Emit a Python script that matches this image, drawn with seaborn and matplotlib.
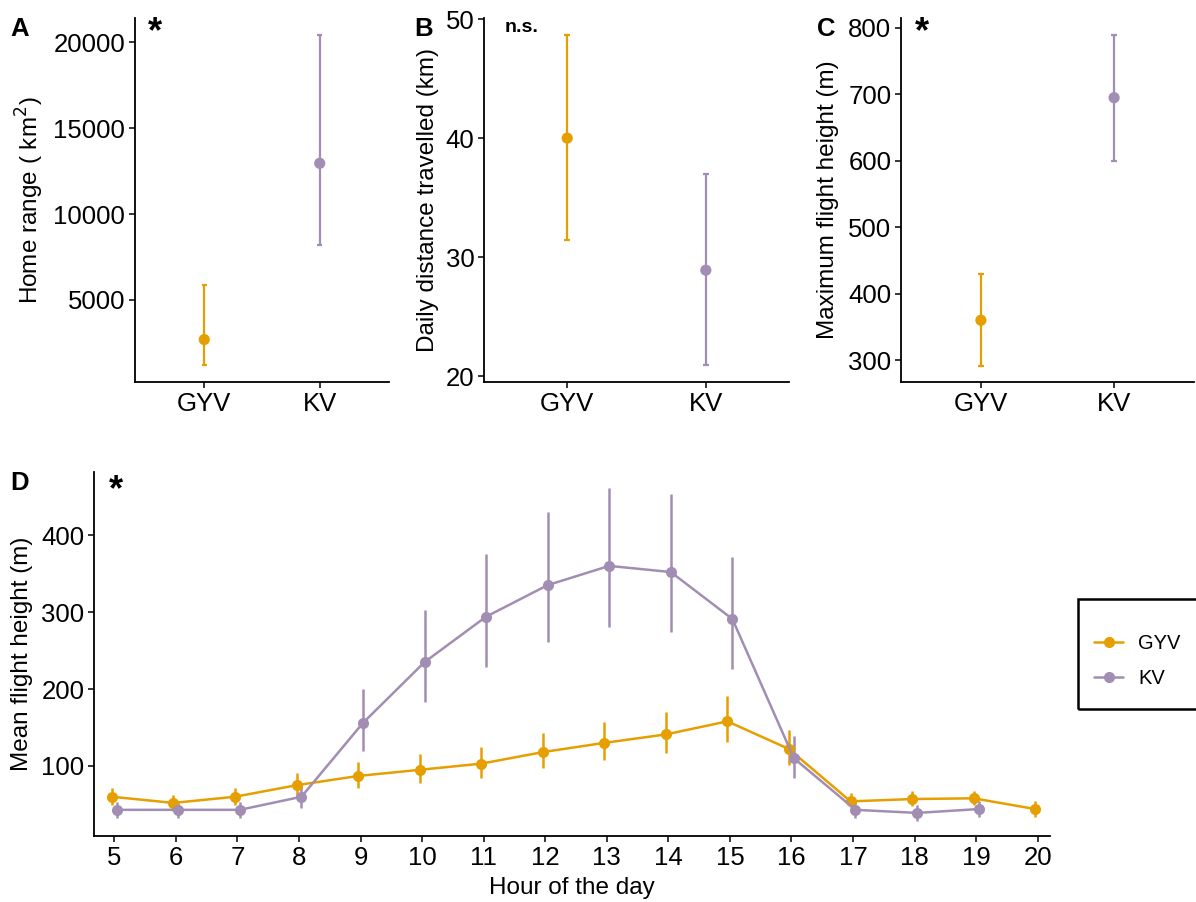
import numpy as np
import pandas as pd
import seaborn as sns
import matplotlib.pyplot as plt
from matplotlib.lines import Line2D
from matplotlib.patches import Rectangle

sns.set_style('white')
plt.rcParams['font.family'] = ['Liberation Sans', 'DejaVu Sans']
plt.rcParams['text.color'] = 'black'
plt.rcParams['axes.labelcolor'] = 'black'

sites = ['GYV', 'KV']
colors = {'GYV': '#E69F00', 'KV': '#A28DB3'}

# panel A-C: mean and error bar limits per site
home_mean = [2700, 12950]
home_lo = [1200, 8200]
home_hi = [5900, 20400]

dist_mean = [40.0, 28.9]
dist_lo = [31.4, 20.9]
dist_hi = [48.7, 37.0]

maxh_mean = [360, 695]
maxh_lo = [291, 600]
maxh_hi = [429, 790]

# panel D: mean flight height per hour
hours_gyv = [5, 6, 7, 8, 9, 10, 11, 12, 13, 14, 15, 16, 17, 18, 19, 20]
gyv_mean = [60, 52, 60, 75, 87, 95, 103, 118, 130, 141, 158, 122, 54, 57, 58, 44]
gyv_lo = [49, 42, 49, 60, 71, 78, 84, 97, 108, 117, 131, 101, 47, 48, 49, 34]
gyv_hi = [71, 62, 71, 91, 105, 116, 125, 143, 157, 170, 191, 147, 65, 67, 68, 55]

hours_kv = [5, 6, 7, 8, 9, 10, 11, 12, 13, 14, 15, 16, 17, 18, 19]
kv_mean = [43, 43, 43, 60, 156, 235, 294, 335, 360, 352, 291, 110, 43, 39, 44]
kv_lo = [33, 33, 33, 46, 119, 183, 229, 261, 281, 274, 226, 84, 33, 29, 34]
kv_hi = [53, 53, 53, 75, 200, 303, 376, 430, 461, 453, 372, 139, 53, 49, 54]

W, H = 1196, 902
fig = plt.figure(figsize=(W / 100, H / 100), dpi=100)


def box(l, r, t, b):
    return [l / W, 1 - b / H, (r - l) / W, (b - t) / H]


def style(ax):
    sns.despine(ax=ax)
    for s in ['left', 'bottom']:
        ax.spines[s].set_linewidth(1.3)
        ax.spines[s].set_color('black')
    ax.tick_params(axis='both', which='both', direction='out', length=4, width=1.1,
                   color='black', labelsize=18.5, labelcolor='black', bottom=True, left=True,
                   pad=3)


def small_panel(rect, mean, lo, hi, ylim, yticks, ylabel, lab_x):
    ax = fig.add_axes(rect)
    df = pd.DataFrame({'site': sites, 'mean': mean, 'lo': lo, 'hi': hi})
    for i, row in df.iterrows():
        ax.vlines(i, row['lo'], row['hi'], color=colors[row['site']], lw=1.6, zorder=2)
        ax.hlines([row['lo'], row['hi']], i - 0.02, i + 0.02, color=colors[row['site']], lw=1.6, zorder=2)
    sns.scatterplot(data=df, x='site', y='mean', hue='site', palette=colors, s=65,
                    edgecolor='none', legend=False, ax=ax, zorder=3)
    ax.set_xlim(-0.6, 1.6)
    ax.set_ylim(*ylim)
    ax.set_yticks(yticks)
    ax.set_xlabel('')
    ax.set_ylabel(ylabel, fontsize=17.5)
    ax.yaxis.set_label_coords(lab_x, 0.5)
    style(ax)
    return ax


axA = small_panel(box(135, 389, 18, 382), home_mean, home_lo, home_hi,
                  (230, 21400), [5000, 10000, 15000, 20000], 'Home range ( km$^{2}$)', -0.413)
axB = small_panel(box(484, 789, 18, 382), dist_mean, dist_lo, dist_hi,
                  (19.5, 50.1), [20, 30, 40, 50], 'Daily distance travelled (km)', -0.184)
axC = small_panel(box(901, 1194, 18, 382), maxh_mean, maxh_lo, maxh_hi,
                  (267, 815), [300, 400, 500, 600, 700, 800], 'Maximum flight height (m)', -0.249)
for ax in (axA, axB, axC):
    ax.yaxis.label.set_va('center')

# panel D
axD = fig.add_axes(box(94, 1050, 472, 836))
dodge = {'GYV': -0.04, 'KV': 0.04}
dfD = pd.concat([
    pd.DataFrame({'hour': hours_gyv, 'mean': gyv_mean, 'lo': gyv_lo, 'hi': gyv_hi, 'site': 'GYV'}),
    pd.DataFrame({'hour': hours_kv, 'mean': kv_mean, 'lo': kv_lo, 'hi': kv_hi, 'site': 'KV'}),
], ignore_index=True)
dfD['x'] = dfD['hour'] + dfD['site'].map(dodge)
for site in sites:
    d = dfD[dfD['site'] == site]
    axD.vlines(d['x'], d['lo'], d['hi'], color=colors[site], lw=1.8, zorder=2)
sns.lineplot(data=dfD, x='x', y='mean', hue='site', palette=colors, marker='o',
             markersize=8, markeredgewidth=0, lw=1.8, legend=False, ax=axD, zorder=3)
axD.set_xlim(4.67, 20.2)
axD.set_ylim(9, 482)
axD.set_xticks(range(5, 21))
axD.set_yticks([100, 200, 300, 400])
axD.set_xlabel('Hour of the day', fontsize=17.5)
axD.set_ylabel('Mean flight height (m)', fontsize=17.5)
axD.yaxis.set_label_coords(-0.0753, 0.5)
axD.yaxis.label.set_va('center')
axD.xaxis.set_label_coords(0.5, -0.112)
style(axD)

# legend: entries without frame, box drawn separately
handles = [Line2D([], [], color=colors[s], marker='o', markersize=8, lw=1.8, markeredgewidth=0)
           for s in sites]
fig.legend(handles, sites, loc='center left', bbox_to_anchor=(1094 / W, 1 - 661 / H),
           frameon=False, fontsize=14.5, handlelength=1.45, handletextpad=0.75,
           borderpad=0, labelspacing=0.8, borderaxespad=0)
fig.patches.append(Rectangle((1078 / W, 1 - 709 / H), 130 / W, 110 / H, transform=fig.transFigure,
                             fill=False, edgecolor='black', lw=1.8))

# panel letters and significance marks
for x, y, t in [(20, 29, 'A'), (424, 29, 'B'), (826, 29, 'C'), (20, 483, 'D')]:
    fig.text(x / W, 1 - y / H, t, fontsize=18.5, fontweight='bold', ha='center', va='center')
for x, y, t in [(155, 33, '*'), (922, 33, '*'), (116, 491, '*')]:
    fig.text(x / W, 1 - y / H, t, fontsize=26, fontweight='bold', ha='center', va='center')
fig.text(522 / W, 1 - 28 / H, 'n.s.', fontsize=14, fontweight='bold', ha='center', va='center')

fig.savefig('out.png', dpi=100)
